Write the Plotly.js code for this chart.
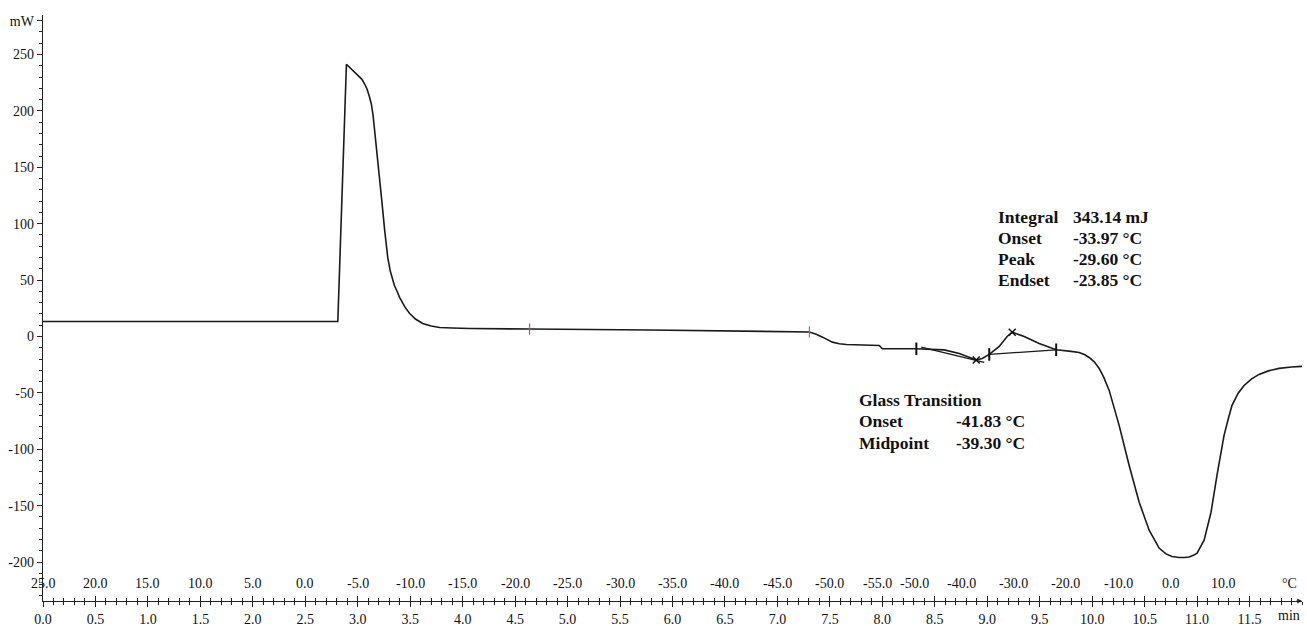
<!DOCTYPE html>
<html>
<head>
<meta charset="utf-8">
<script src="https://cdn.plot.ly/plotly-3.0.1.min.js"></script>
<style>html,body{margin:0;padding:0;background:#fff;}#chart{width:1307px;height:626px;}</style>
</head>
<body>
<div id="chart"></div>
<script>
// DSC curve: time (min) vs heat flow (mW)
const timeMin = [0, 2.81, 2.892, 2.95, 3.0, 3.04, 3.067, 3.09, 3.11, 3.130, 3.146, 3.162, 3.190, 3.226, 3.257, 3.286, 3.31, 3.333, 3.35, 3.37, 3.40, 3.45, 3.495, 3.55, 3.619, 3.70, 3.781, 3.9, 4.067, 4.638, 5.781, 7.305, 7.37, 7.43, 7.524, 7.59, 7.657, 7.971, 8.0, 8.324, 8.59, 8.733, 8.895, 8.952, 9.019, 9.114, 9.19, 9.238, 9.352, 9.495, 9.657, 9.80, 9.876, 9.93, 9.971, 10.02, 10.067, 10.11, 10.162, 10.257, 10.352, 10.448, 10.543, 10.638, 10.70, 10.76, 10.829, 10.88, 10.924, 10.965, 11.0, 11.067, 11.133, 11.19, 11.257, 11.3, 11.333, 11.39, 11.448, 11.52, 11.59, 11.68, 11.781, 11.9, 12.0];
const heatFlow = [13.3, 13.3, 241.3, 236, 232, 228, 223.6, 219, 213, 205.9, 196, 182.3, 153.1, 123.3, 93.8, 69.9, 58, 49.6, 45, 41, 34.5, 26, 20.4, 15.5, 11.5, 9.3, 8.0, 7.5, 7.1, 6.6, 5.8, 4.0, 2.0, -0.6, -5.0, -6.5, -7.1, -8.0, -10.9, -10.9, -11.9, -15.0, -20.8, -19.5, -15.9, -8.8, 0, 3.8, 0, -6.2, -11.8, -13.2, -14.2, -16.2, -18.6, -22.5, -28.3, -36, -47.8, -78.8, -114.2, -146.9, -171.7, -187.6, -192.5, -195, -196, -196, -195.5, -194, -192, -180.5, -155.8, -123, -87.6, -72, -61.1, -50.5, -43.4, -37.5, -33.6, -30.5, -28.3, -27, -26.5];

// evaluation helper lines
const tangentT = [8.371, 8.971];
const tangentMW = [-9.5, -23.0];
const baseT = [9.019, 9.657];
const baseMW = [-15.9, -11.8];

// markers
const redMarkT = [4.638, 7.305];
const redMarkMW = [6.6, 4.0];
const tickMarkT = [8.324, 9.019, 9.657];
const tickMarkMW = [-10.9, -15.9, -11.8];
const xMarkT = [8.895, 9.238];
const xMarkMW = [-20.8, 3.8];

// axis ticks
const yTickVals = [-200, -150, -100, -50, 0, 50, 100, 150, 200, 250, 280];
const yTickText = ['-200', '-150', '-100', '-50', '0', '50', '100', '150', '200', '250', 'mW'];
const xTickVals = [0,0.5,1,1.5,2,2.5,3,3.5,4,4.5,5,5.5,6,6.5,7,7.5,8,8.5,9,9.5,10,10.5,11,11.5];
const xTickText = xTickVals.map(v => v.toFixed(1));

// temperature labels (secondary scale)
const tempT = [0,0.5,1,1.5,2,2.5,3,3.5,4,4.5,5,5.5,6,6.5,7,7.5,8,8.25,8.75,9.25,9.75,10.25,10.75,11.25];
const tempLabels = ['25.0','20.0','15.0','10.0','5.0','0.0','-5.0','-10.0','-15.0','-20.0','-25.0','-30.0','-35.0','-40.0','-45.0','-50.0','-55.0','-50.0','-40.0','-30.0','-20.0','-10.0','0.0','10.0'];

const serif = 'Liberation Serif, Times New Roman, serif';

const traces = [
  {x: timeMin, y: heatFlow, type: 'scatter', mode: 'lines', line: {color: '#1a1a1a', width: 1.6}, hoverinfo: 'skip'},
  {x: tangentT, y: tangentMW, type: 'scatter', mode: 'lines', line: {color: '#1a1a1a', width: 1.3}, hoverinfo: 'skip'},
  {x: baseT, y: baseMW, type: 'scatter', mode: 'lines', line: {color: '#1a1a1a', width: 1.3}, hoverinfo: 'skip'},
  {x: redMarkT, y: redMarkMW, type: 'scatter', mode: 'markers', marker: {symbol: 'line-ns', size: 8, line: {color: '#e05050', width: 1.2}}, hoverinfo: 'skip'},
  {x: tickMarkT, y: tickMarkMW, type: 'scatter', mode: 'markers', marker: {symbol: 'line-ns', size: 9, line: {color: '#111', width: 2}}, hoverinfo: 'skip'},
  {x: xMarkT, y: xMarkMW, type: 'scatter', mode: 'markers', marker: {symbol: 'x-thin', size: 7, line: {color: '#111', width: 1.5}}, hoverinfo: 'skip'},
  {x: [0, 12], y: [0, 0], xaxis: 'x2', type: 'scatter', mode: 'lines', line: {width: 0}, hoverinfo: 'skip', showlegend: false}
];

const annotations = [];
tempT.forEach((t, i) => {
  // the -55.0 / -50.0 pair at the cooling/heating switch sits very close; nudge apart
  let shift = 0;
  if (i === 16) shift = -5;
  if (i === 17) shift = 6;
  annotations.push({x: t, y: 0, xref: 'x', yref: 'paper', yshift: 18, xshift: shift, text: tempLabels[i], showarrow: false, xanchor: 'center', yanchor: 'middle', font: {family: serif, size: 14, color: '#111'}});
});
annotations.push({x: 1, y: 0, xref: 'paper', yref: 'paper', xshift: -3, yshift: 18, text: '°C', showarrow: false, xanchor: 'right', yanchor: 'middle', font: {family: serif, size: 14, color: '#111'}});
annotations.push({x: 1, y: 0, xref: 'paper', yref: 'paper', xshift: 0, yshift: -14, text: 'min', showarrow: false, xanchor: 'right', yanchor: 'middle', font: {family: serif, size: 14, color: '#111'}});
// axis arrow at right end
annotations.push({x: 1, y: 0, xref: 'paper', yref: 'paper', ax: -7, ay: 0, text: '', showarrow: true, arrowhead: 2, arrowsize: 0.8, arrowwidth: 1.2, arrowcolor: '#222'});

const boldFont = {family: serif, size: 17.5, color: '#111'};
const intRows = [['Integral', '343.14 mJ', 106.2], ['Onset', '-33.97 °C', 87.6], ['Peak', '-29.60 °C', 69.0], ['Endset', '-23.85 °C', 50.4]];
intRows.forEach(r => {
  annotations.push({x: 9.086, y: r[2], xref: 'x', yref: 'y', text: '<b>' + r[0] + '</b>', showarrow: false, xanchor: 'left', yanchor: 'middle', font: boldFont});
  annotations.push({x: 9.80, y: r[2], xref: 'x', yref: 'y', text: '<b>' + r[1] + '</b>', showarrow: false, xanchor: 'left', yanchor: 'middle', font: boldFont});
});
annotations.push({x: 7.762, y: -56.6, xref: 'x', yref: 'y', text: '<b>Glass Transition</b>', showarrow: false, xanchor: 'left', yanchor: 'middle', font: boldFont});
annotations.push({x: 7.762, y: -75.2, xref: 'x', yref: 'y', text: '<b>Onset</b>', showarrow: false, xanchor: 'left', yanchor: 'middle', font: boldFont});
annotations.push({x: 7.762, y: -94.7, xref: 'x', yref: 'y', text: '<b>Midpoint</b>', showarrow: false, xanchor: 'left', yanchor: 'middle', font: boldFont});
annotations.push({x: 9.38, y: -75.2, xref: 'x', yref: 'y', text: '<b>-41.83 °C</b>', showarrow: false, xanchor: 'right', yanchor: 'middle', font: boldFont});
annotations.push({x: 9.38, y: -94.7, xref: 'x', yref: 'y', text: '<b>-39.30 °C</b>', showarrow: false, xanchor: 'right', yanchor: 'middle', font: boldFont});

const layout = {
  width: 1307, height: 626,
  margin: {l: 43, r: 5, t: 15, b: 25},
  paper_bgcolor: '#fff', plot_bgcolor: '#fff',
  showlegend: false,
  xaxis: {
    range: [0, 12], tickvals: xTickVals, ticktext: xTickText,
    ticks: 'outside', ticklen: 5, tickwidth: 1, tickcolor: '#222',
    minor: {dtick: 0.1, ticks: 'outside', ticklen: 3, tickcolor: '#222', tickwidth: 1},
    showline: true, linecolor: '#222', linewidth: 1.3,
    showgrid: false, zeroline: false,
    tickfont: {family: serif, size: 14, color: '#111'}
  },
  xaxis2: {
    range: [0, 12], overlaying: 'x', anchor: 'y', side: 'bottom',
    tickvals: xTickVals, showticklabels: false,
    ticks: 'inside', ticklen: 5, tickwidth: 1, tickcolor: '#222',
    minor: {dtick: 0.1, ticks: 'inside', ticklen: 3, tickcolor: '#222', tickwidth: 1},
    showline: false, showgrid: false, zeroline: false
  },
  yaxis: {
    range: [-234.5, 285], tickvals: yTickVals, ticktext: yTickText,
    ticks: 'outside', ticklen: 5, tickwidth: 1, tickcolor: '#222',
    minor: {dtick: 10, ticks: 'outside', ticklen: 3, tickcolor: '#222', tickwidth: 1},
    showline: true, linecolor: '#222', linewidth: 1.3,
    showgrid: false, zeroline: false,
    tickfont: {family: serif, size: 14, color: '#111'}
  },
  annotations: annotations
};

Plotly.newPlot('chart', traces, layout, {staticPlot: true, displayModeBar: false});
</script>
</body>
</html>
